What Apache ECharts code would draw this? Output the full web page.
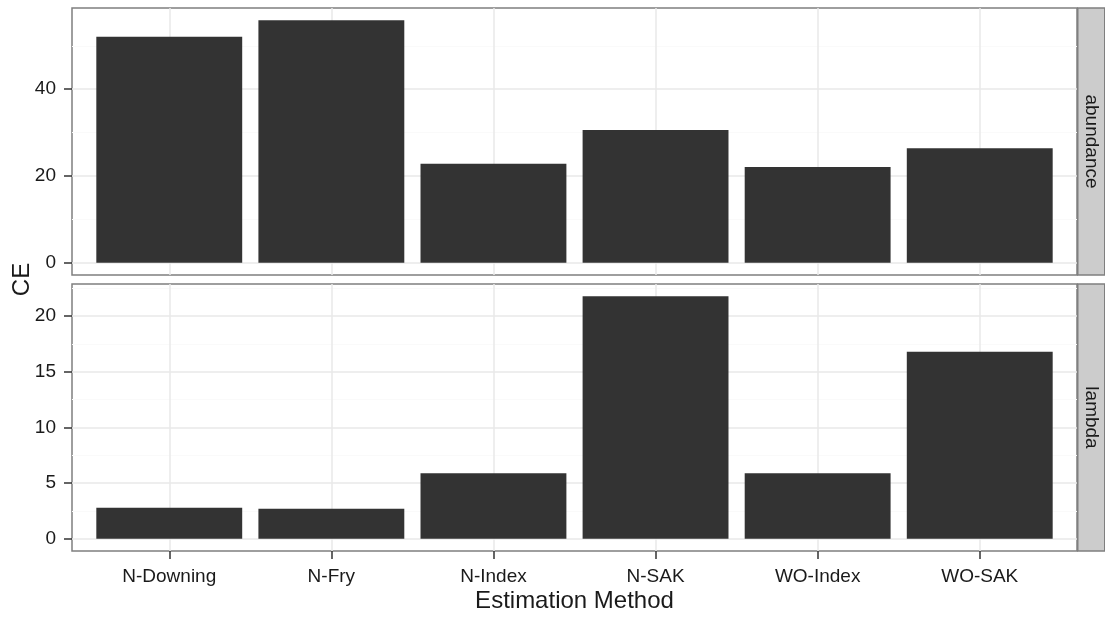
<!DOCTYPE html>
<html>
<head>
<meta charset="utf-8">
<script src="https://cdn.jsdelivr.net/npm/echarts@6/dist/echarts.min.js"></script>
<style>
  html, body { margin: 0; padding: 0; background: #ffffff; }
  #chart { width: 1105px; height: 619px; }
</style>
</head>
<body>
<div id="chart"></div>
<script>
// Capture efficiency by estimation method, one panel per parameter
const categories = ['N-Downing', 'N-Fry', 'N-Index', 'N-SAK', 'WO-Index', 'WO-SAK'];
const abundanceCE = [52.1, 55.9, 22.8, 30.6, 22.1, 26.4];
const lambdaCE = [2.8, 2.7, 5.9, 21.8, 5.9, 16.8];
const panelNames = ['abundance', 'lambda'];
const abundanceBreaks = [0, 20, 40];
const abundanceMinor = [10, 30, 50];
const lambdaBreaks = [0, 5, 10, 15, 20];
const lambdaMinor = [2.5, 7.5, 12.5, 17.5, 22.5];
const xPositions = categories.map((c, i) => i + 1);

const FONT = '"Liberation Sans", Arial, sans-serif';
const TEXT = '#1a1a1a';
const BORDER = '#7f7f7f';
const MAJOR = '#e8e8e8';
const MINOR = '#fafafa';

const panels = [
  { top: 8, values: abundanceCE, breaks: abundanceBreaks, minor: abundanceMinor },
  { top: 284, values: lambdaCE, breaks: lambdaBreaks, minor: lambdaMinor }
];
const PANEL_LEFT = 72, PANEL_W = 1005, PANEL_H = 267, STRIP_W = 27;

// 5% padding around the data range on y, 0.6 on each side of the discrete x range
function yRange(values) {
  const hi = Math.max(...values);
  return { min: -0.05 * hi, max: 1.05 * hi };
}

const grids = [], xAxes = [], yAxes = [], series = [], graphics = [];

panels.forEach((p, k) => {
  const isBottom = k === panels.length - 1;
  const r = yRange(p.values);
  grids.push({
    left: PANEL_LEFT, top: p.top, width: PANEL_W, height: PANEL_H,
    show: true, borderColor: BORDER, borderWidth: 1.5, backgroundColor: '#ffffff'
  });
  xAxes.push({
    type: 'value', gridIndex: k, min: 0.4, max: 6.6, position: 'bottom',
    axisLine: { show: false, onZero: false },
    axisTick: { show: isBottom, length: 8, customValues: xPositions,
                lineStyle: { color: '#333333', width: 1.5 } },
    axisLabel: { show: isBottom, customValues: xPositions, margin: 16,
                 fontFamily: FONT, fontSize: 19, color: TEXT,
                 formatter: v => categories[Math.round(v) - 1] || '' },
    splitLine: { show: true, lineStyle: { color: MAJOR, width: 1.5 } }
  });
  // major breaks with labels
  yAxes.push({
    type: 'value', gridIndex: k, min: r.min, max: r.max, position: 'left',
    axisLine: { show: false, onZero: false },
    axisTick: { show: true, length: 8, customValues: p.breaks,
                lineStyle: { color: '#333333', width: 1.5 } },
    axisLabel: { show: true, customValues: p.breaks, margin: 16,
                 fontFamily: FONT, fontSize: 19, color: TEXT },
    splitLine: { show: true, lineStyle: { color: MAJOR, width: 1.5 } }
  });
  // minor breaks, grid lines only
  yAxes.push({
    type: 'value', gridIndex: k, min: r.min, max: r.max, position: 'left',
    axisLine: { show: false, onZero: false },
    axisTick: { show: false, customValues: p.minor },
    axisLabel: { show: false },
    splitLine: { show: true, lineStyle: { color: MINOR, width: 1.2 } }
  });
  series.push({
    type: 'bar', xAxisIndex: k, yAxisIndex: 2 * k,
    data: xPositions.map((x, i) => [x, p.values[i]]),
    barWidth: '90%',
    itemStyle: { color: '#333333' },
    silent: true, animation: false
  });
  // facet strip on the right
  graphics.push({
    type: 'rect', shape: { x: PANEL_LEFT + PANEL_W + 0.75, y: p.top, width: STRIP_W, height: PANEL_H },
    style: { fill: '#cccccc', stroke: BORDER, lineWidth: 1.5 }
  });
  graphics.push({
    type: 'text', x: PANEL_LEFT + PANEL_W + 0.75 + STRIP_W / 2, y: p.top + PANEL_H / 2,
    rotation: -Math.PI / 2,
    style: { text: panelNames[k], align: 'center', verticalAlign: 'middle',
             font: '19px ' + FONT, fill: TEXT }
  });
});

// axis titles shared by both panels
graphics.push({
  type: 'text', x: 22, y: (8 + 284 + PANEL_H) / 2, rotation: Math.PI / 2,
  style: { text: 'CE', align: 'center', verticalAlign: 'middle', font: '24px ' + FONT, fill: TEXT }
});
graphics.push({
  type: 'text', x: PANEL_LEFT + PANEL_W / 2, y: 601,
  style: { text: 'Estimation Method', align: 'center', verticalAlign: 'middle', font: '24px ' + FONT, fill: TEXT }
});

const chart = echarts.init(document.getElementById('chart'), null, { renderer: 'canvas' });
chart.setOption({
  animation: false,
  backgroundColor: '#ffffff',
  grid: grids,
  xAxis: xAxes,
  yAxis: yAxes,
  series: series,
  graphic: graphics
});
</script>
</body>
</html>
